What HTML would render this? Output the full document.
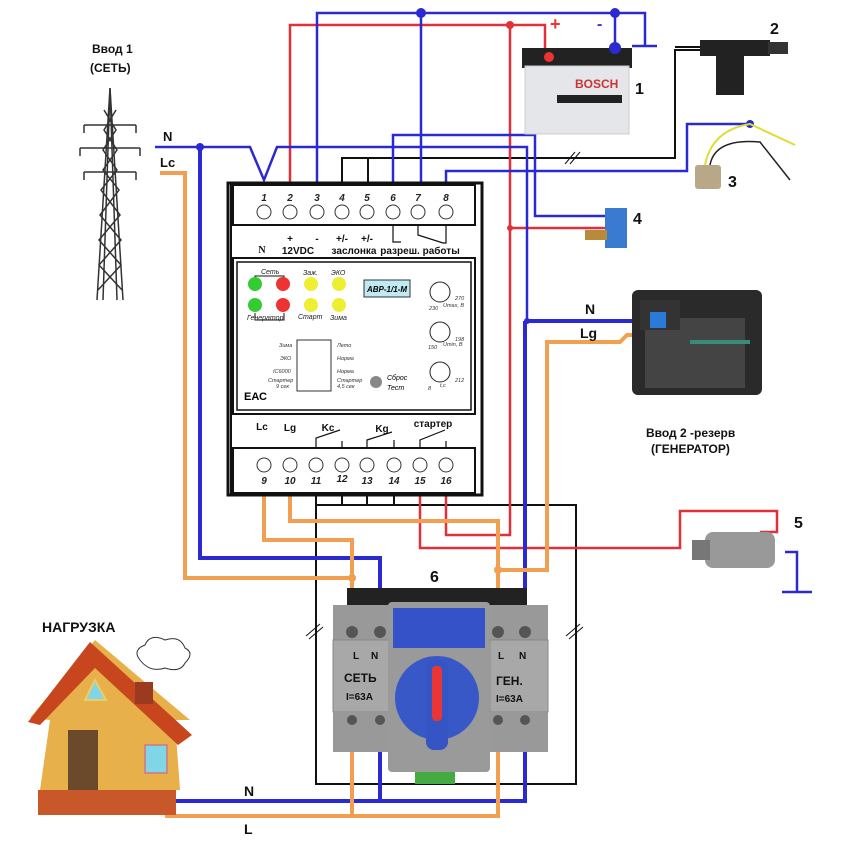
<!DOCTYPE html>
<html><head><meta charset="utf-8"><style>
html,body{margin:0;padding:0;background:#fff}
svg{display:block}
text{font-family:"Liberation Sans",sans-serif}
.s{font-family:"Liberation Serif",serif;font-weight:bold}
</style></head><body>
<svg width="850" height="850" viewBox="0 0 850 850" xmlns="http://www.w3.org/2000/svg">
<rect width="850" height="850" fill="#fff"/>
<polyline points="316,490 316,784 576,784 576,505 316,505" fill="none" stroke="#111" stroke-width="2"/>
<g stroke="#111" stroke-width="2"><line x1="342" y1="490" x2="342" y2="505"/><line x1="367" y1="490" x2="367" y2="505"/><line x1="394" y1="490" x2="394" y2="505"/></g>
<line x1="306" y1="636" x2="320" y2="624" stroke="#111"/><line x1="309" y1="639" x2="323" y2="627" stroke="#111"/>
<line x1="566" y1="636" x2="580" y2="624" stroke="#111"/><line x1="569" y1="639" x2="583" y2="627" stroke="#111"/>
<polyline points="342,183 342,158 675,158 675,50 700,50" fill="none" stroke="#111" stroke-width="2"/>
<line x1="368" y1="183" x2="368" y2="158" stroke="#111" stroke-width="2"/>
<polyline points="675,47 700,47" stroke="#111" stroke-width="2"/>
<line x1="565" y1="164" x2="575" y2="152" stroke="#111"/><line x1="570" y1="164" x2="580" y2="152" stroke="#111"/>
<g fill="none" stroke="#e0303a" stroke-width="2.5">
<polyline points="290,183 290,25 545,25 545,57"/>
<polyline points="510,25 510,535 446,535 446,493"/>
<line x1="510" y1="228" x2="612" y2="228"/>
<polyline points="420,493 420,548 680,548 680,511 777,511 777,532 760,532"/>
</g>
<circle cx="510" cy="25" r="4" fill="#e0303a"/><circle cx="510" cy="228" r="3" fill="#e0303a"/>
<g fill="none" stroke="#2a2ad0" stroke-width="2.5">
<polyline points="317,183 317,13 615,13 645,13 645,45"/>
<line x1="632" y1="46" x2="657" y2="46"/>
<line x1="615" y1="13" x2="615" y2="50"/>
<line x1="421" y1="13" x2="421" y2="183"/>
<polyline points="393,183 393,135 535,135 535,216 608,216"/>
<polyline points="446,183 446,171 687,171 687,124 750,124"/>
<polyline points="155,147 250,147 264,180 277,147 527,147 527,321"/>
<polyline points="785,552 797,552 797,592"/><line x1="782" y1="592" x2="812" y2="592"/>
</g>
<g fill="none" stroke="#2a2ad0" stroke-width="4">
<polyline points="200,147 200,558 380,558 380,632"/>
<polyline points="525,321 665,321"/>
<line x1="525" y1="321" x2="525" y2="632"/>
<polyline points="165,801 525,801 525,720"/>
<line x1="380" y1="801" x2="380" y2="720"/>
</g>
<circle cx="200" cy="147" r="4" fill="#2a2ad0"/><circle cx="421" cy="13" r="5" fill="#2a2ad0"/><circle cx="615" cy="13" r="5" fill="#2a2ad0"/><circle cx="750" cy="124" r="4" fill="#2a2ad0"/><circle cx="527" cy="321" r="3" fill="#2a2ad0"/>
<g fill="none" stroke="#f0a050" stroke-width="4">
<polyline points="160,173 185,173 185,578 352,578 352,632"/>
<polyline points="264,493 264,540 352,540 352,580"/>
<polyline points="290,493 290,521 498,521 498,632"/>
<polyline points="665,335 627,335 620,342 547,342 547,570 498,570"/>
<polyline points="165,816 498,816 498,720"/>
<line x1="352" y1="816" x2="352" y2="720"/>
</g>
<circle cx="352" cy="578" r="4" fill="#f0a050"/><circle cx="498" cy="570" r="4" fill="#f0a050"/>
<rect x="228" y="183" width="254" height="312" fill="#fff" stroke="#111" stroke-width="3"/>
<line x1="231" y1="183" x2="231" y2="495" stroke="#111" stroke-width="2"/>
<rect x="233" y="185" width="242" height="40" fill="#fff" stroke="#111" stroke-width="2"/>
<rect x="233" y="258" width="242" height="156" fill="#fff" stroke="#111" stroke-width="2"/>
<rect x="237" y="262" width="234" height="148" fill="none" stroke="#111" stroke-width="1.5"/>
<rect x="233" y="448" width="242" height="45" fill="#fff" stroke="#111" stroke-width="2"/>
<g fill="#fff" stroke="#333" stroke-width="1">
<circle cx="264" cy="212" r="7"/><circle cx="290" cy="212" r="7"/><circle cx="317" cy="212" r="7"/><circle cx="342" cy="212" r="7"/><circle cx="367" cy="212" r="7"/><circle cx="393" cy="212" r="7"/><circle cx="418" cy="212" r="7"/><circle cx="446" cy="212" r="7"/>
<circle cx="264" cy="465" r="7"/><circle cx="290" cy="465" r="7"/><circle cx="316" cy="465" r="7"/><circle cx="342" cy="465" r="7"/><circle cx="367" cy="465" r="7"/><circle cx="394" cy="465" r="7"/><circle cx="420" cy="465" r="7"/><circle cx="446" cy="465" r="7"/>
</g>
<g font-size="10" font-style="italic" font-weight="bold" text-anchor="middle" fill="#222">
<text x="264" y="201">1</text><text x="290" y="201">2</text><text x="317" y="201">3</text><text x="342" y="201">4</text><text x="367" y="201">5</text><text x="393" y="201">6</text><text x="418" y="201">7</text><text x="446" y="201">8</text>
<text x="264" y="484">9</text><text x="290" y="484">10</text><text x="316" y="484">11</text><text x="342" y="482">12</text><text x="367" y="484">13</text><text x="394" y="484">14</text><text x="420" y="484">15</text><text x="446" y="484">16</text>
</g>
<g class="s" font-size="10" text-anchor="middle" fill="#111">
<text x="262" y="253" class="s">N</text><text x="290" y="242">+</text><text x="317" y="242">-</text><text x="342" y="242">+/-</text><text x="367" y="242">+/-</text>
<text x="298" y="254">12VDC</text><text x="354" y="254">заслонка</text><text x="420" y="254">разреш. работы</text>
<text x="262" y="430">Lc</text><text x="290" y="431">Lg</text><text x="328" y="431">Kc</text><text x="382" y="432">Kg</text><text x="433" y="427">стартер</text>
</g>
<g fill="none" stroke="#111" stroke-width="1.2">
<polyline points="393,225 393,242 401,242"/><polyline points="418,225 418,235 443,243 446,243 446,225"/>
<polyline points="316,448 316,438 340,430"/><polyline points="342,448 342,441"/>
<polyline points="367,448 367,440 392,432"/><polyline points="394,448 394,440"/>
<polyline points="420,448 420,440 445,430"/><polyline points="446,448 446,441"/>
</g>
<polyline points="255,290 255,276 284,276 284,290" fill="none" stroke="#111"/>
<polyline points="255,313 255,320 284,320 284,313" fill="none" stroke="#111"/>
<g font-size="7" font-style="italic" fill="#222">
<text x="261" y="274">Сеть</text><text x="247" y="320">Генератор</text><text x="303" y="275">Заж.</text><text x="331" y="275">ЭКО</text><text x="298" y="319">Старт</text><text x="330" y="320">Зима</text>
</g>
<circle cx="255" cy="284" r="7" fill="#3c3"/><circle cx="283" cy="284" r="7" fill="#e33"/><circle cx="255" cy="305" r="7" fill="#3c3"/><circle cx="283" cy="305" r="7" fill="#e33"/>
<circle cx="311" cy="284" r="7" fill="#ee3"/><circle cx="339" cy="284" r="7" fill="#ee3"/><circle cx="311" cy="305" r="7" fill="#ee3"/><circle cx="339" cy="305" r="7" fill="#ee3"/>
<rect x="364" y="280" width="46" height="17" fill="#bfeaf2" stroke="#333"/>
<text x="387" y="292" font-size="8" font-style="italic" font-weight="bold" text-anchor="middle">АВР-1/1-М</text>
<rect x="297" y="340" width="34" height="51" fill="#fff" stroke="#333"/>
<g font-size="5.5" font-style="italic" fill="#333">
<text x="279" y="347">Зима</text><text x="280" y="360">ЭКО</text><text x="273" y="373">IC6000</text><text x="268" y="382">Стартер</text><text x="276" y="388">9 сек</text>
<text x="337" y="347">Лето</text><text x="337" y="360">Норма</text><text x="337" y="373">Норма</text><text x="337" y="382">Стартер</text><text x="337" y="388">4,5 сек</text>
<text x="429" y="310">230</text><text x="455" y="300">270</text><text x="428" y="349">150</text><text x="455" y="341">198</text><text x="428" y="390">8</text><text x="455" y="382">212</text>
<text x="443" y="307">Umax, В</text><text x="443" y="346">Umin, В</text><text x="440" y="387">t,с</text>
</g>
<text x="244" y="400" font-size="11" font-weight="bold">ЕАС</text>
<circle cx="376" cy="382" r="6" fill="#888"/>
<text x="387" y="380" font-size="7" font-style="italic">Сброс</text><text x="387" y="390" font-size="7" font-style="italic">Тест</text>
<g fill="none" stroke="#222" stroke-width="1"><circle cx="440" cy="292" r="10"/><circle cx="440" cy="332" r="10"/><circle cx="440" cy="372" r="10"/></g>
<rect x="347" y="588" width="180" height="20" fill="#222"/>
<rect x="333" y="605" width="64" height="50" fill="#999"/><rect x="333" y="640" width="64" height="72" fill="#a8a8a8" stroke="#888"/>
<rect x="333" y="712" width="64" height="40" fill="#999"/>
<rect x="490" y="605" width="58" height="50" fill="#999"/><rect x="490" y="640" width="58" height="72" fill="#a8a8a8" stroke="#888"/>
<rect x="490" y="712" width="58" height="40" fill="#999"/>
<rect x="388" y="602" width="102" height="170" rx="4" fill="#9a9a9a"/>
<rect x="393" y="608" width="92" height="40" fill="#3552c8"/>
<circle cx="437" cy="698" r="42" fill="#3858c8"/>
<rect x="426" y="660" width="22" height="90" rx="8" fill="#3555c4"/>
<rect x="432" y="666" width="10" height="55" rx="4" fill="#e83535"/>
<rect x="415" y="772" width="40" height="12" fill="#4a4"/>
<g fill="#555"><circle cx="352" cy="632" r="6"/><circle cx="380" cy="632" r="6"/><circle cx="498" cy="632" r="6"/><circle cx="525" cy="632" r="6"/><circle cx="352" cy="720" r="5"/><circle cx="380" cy="720" r="5"/><circle cx="498" cy="720" r="5"/><circle cx="525" cy="720" r="5"/></g>
<g font-weight="bold" fill="#111">
<text x="353" y="659" font-size="10">L</text><text x="371" y="659" font-size="10">N</text>
<text x="498" y="659" font-size="10">L</text><text x="519" y="659" font-size="10">N</text>
<text x="344" y="682" font-size="12">СЕТЬ</text><text x="346" y="700" font-size="10">I=63A</text>
<text x="496" y="685" font-size="12">ГЕН.</text><text x="496" y="702" font-size="10">I=63A</text>
</g>
<!-- tower -->
<g stroke="#333" stroke-width="1.5" fill="none">
<polyline points="97,300 110,88 123,300"/><polyline points="103,300 110,88 117,300"/>
<line x1="84" y1="125" x2="136" y2="125"/><line x1="80" y1="148" x2="140" y2="148"/><line x1="84" y1="172" x2="136" y2="172"/>
<path d="M84,125 l0,8 M136,125 l0,8 M80,148 l0,8 M140,148 l0,8 M84,172 l0,8 M136,172 l0,8"/>
<path d="M104,110 L116,130 L103,150 L117,170 L101,190 L120,215 L99,240 L121,265 L98,290 M116,110 L104,130 L117,150 L103,170 L119,190 L100,215 L121,240 L99,265 L122,290"/>
</g>
<!-- battery -->
<rect x="522" y="48" width="110" height="20" fill="#222"/>
<rect x="525" y="66" width="104" height="68" fill="#e4e6ea" stroke="#ccc"/>
<text x="575" y="88" font-size="12" font-weight="bold" fill="#c33">BOSCH</text>
<rect x="557" y="95" width="65" height="8" fill="#222"/>
<circle cx="549" cy="57" r="5" fill="#e33"/><circle cx="615" cy="48" r="6" fill="#2a2ad0"/>
<text x="550" y="30" font-size="18" font-weight="bold" fill="#e33">+</text>
<text x="597" y="29" font-size="16" font-weight="bold" fill="#33c">-</text>
<rect x="700" y="40" width="70" height="16" fill="#222"/><rect x="716" y="50" width="28" height="45" fill="#222"/><rect x="768" y="42" width="20" height="12" fill="#333"/>
<rect x="695" y="165" width="26" height="24" rx="3" fill="#b8a888"/>
<path d="M705,165 Q712,130 750,124 L795,145" stroke="#dd3" stroke-width="2" fill="none"/>
<path d="M710,165 Q715,138 760,142 L790,180" stroke="#222" stroke-width="1.5" fill="none"/>
<rect x="605" y="208" width="22" height="40" fill="#3a7ad0"/><rect x="585" y="230" width="22" height="10" fill="#b98a3a"/>
<!-- generator -->
<rect x="632" y="290" width="130" height="105" rx="6" fill="#2a2a2a"/><rect x="645" y="318" width="100" height="70" fill="#444"/><rect x="640" y="300" width="40" height="30" fill="#333"/><rect x="650" y="312" width="16" height="16" fill="#2a7ad8"/><rect x="690" y="340" width="60" height="4" fill="#3a8a7a"/>
<rect x="705" y="532" width="70" height="36" rx="8" fill="#999"/><rect x="692" y="540" width="18" height="20" fill="#777"/>
<path d="M40,790 L50,720 L30,718 L95,640 L190,720 L175,720 L180,790 Z" fill="#e8b04a"/>
<path d="M28,722 L90,642 L192,735 L178,745 L95,668 L40,725 Z" fill="#c8461e"/>
<rect x="135" y="682" width="18" height="22" fill="#9a3a20"/>
<rect x="68" y="730" width="30" height="70" fill="#6a4a2a"/>
<rect x="145" y="745" width="22" height="28" fill="#7fd6e6" stroke="#c88" stroke-width="2"/>
<path d="M85,700 L95,680 L106,700 Z" fill="#7fd6e6" stroke="#eecc66" stroke-width="2"/>
<rect x="38" y="790" width="138" height="25" fill="#c8582a"/>
<path d="M140,660 q-8,-10 5,-15 q5,-12 20,-5 q15,-5 20,8 q10,5 0,15 q-5,10 -20,5 q-15,5 -25,-8z" fill="#fff" stroke="#333"/>
<g font-weight="bold" fill="#111">
<text x="92" y="53" font-size="12">Ввод 1</text><text x="90" y="72" font-size="12">(СЕТЬ)</text>
<text x="163" y="141" font-size="13">N</text><text x="160" y="167" font-size="13">Lc</text>
<text x="770" y="34" font-size="16">2</text><text x="635" y="94" font-size="16">1</text><text x="728" y="187" font-size="16">3</text><text x="633" y="224" font-size="16">4</text>
<text x="585" y="314" font-size="14">N</text><text x="580" y="338" font-size="14">Lg</text>
<text x="646" y="437" font-size="12">Ввод 2 -резерв</text><text x="651" y="453" font-size="12">(ГЕНЕРАТОР)</text>
<text x="794" y="528" font-size="16">5</text><text x="430" y="582" font-size="16">6</text>
<text x="42" y="632" font-size="14">НАГРУЗКА</text>
<text x="244" y="796" font-size="14">N</text><text x="244" y="834" font-size="14">L</text>
</g>
</svg>
</body></html>
